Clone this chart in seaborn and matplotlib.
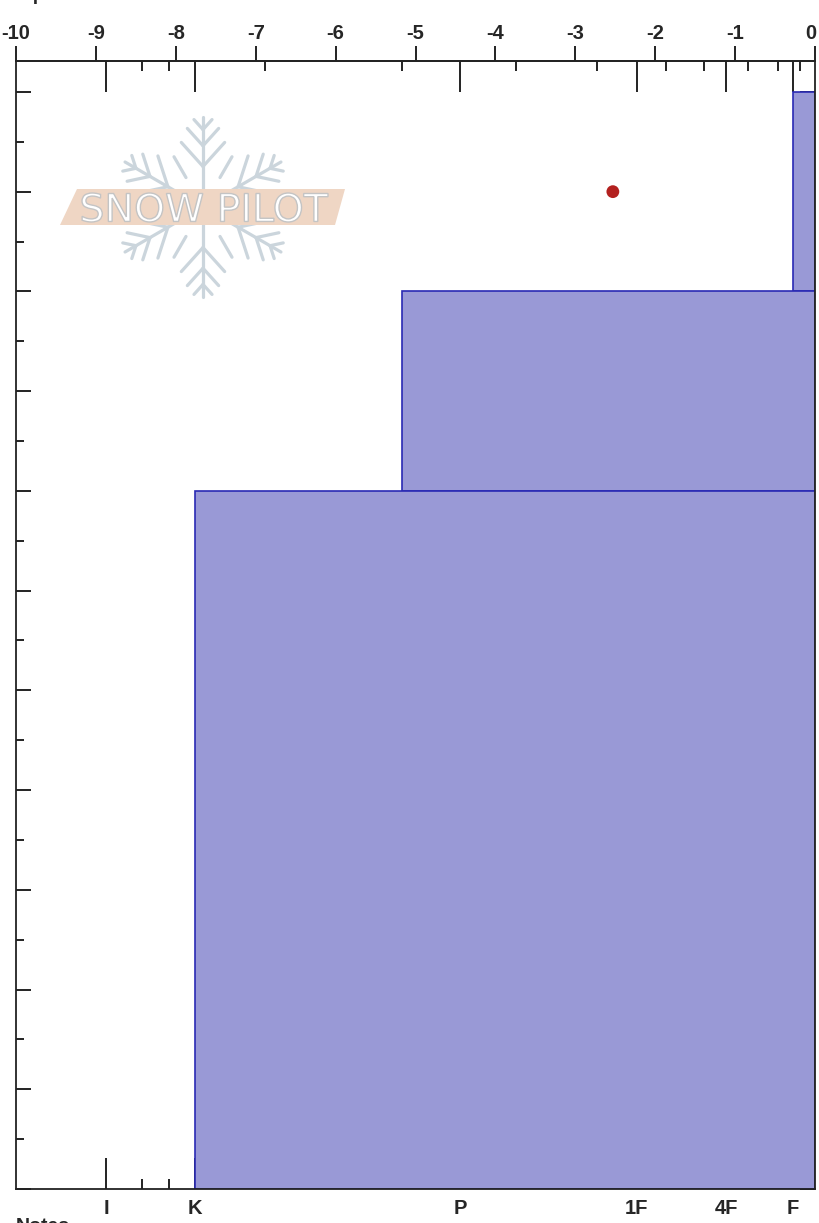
import numpy as np
import matplotlib
matplotlib.use("Agg")
import matplotlib.pyplot as plt
import matplotlib.transforms as mtransforms
from matplotlib.patches import Polygon, PathPatch
from matplotlib.textpath import TextPath
from matplotlib.font_manager import FontProperties
import seaborn as sns

# layers (height in cm, hardness on the -10..0 scale)
layer_top = [110, 90, 70]
layer_bottom = [90, 70, 0]
layer_hardness = [-0.275, -5.17, -7.76]   # F, P+, K

hardness_labels = ['I', 'K', 'P', '1F', '4F', 'F']
hardness_major = [-8.87, -7.76, -4.44, -2.23, -1.11, -0.275]
hardness_minor = [-8.42, -8.09, -6.88, -5.17, -3.74, -2.73, -1.86, -1.39, -0.84, -0.46, -0.19]
top_ticks = list(range(-10, 1))

point_x = [-2.53]
point_y = [100]
y_max = 113.1

sns.set_style("white")
plt.rcParams['font.family'] = ['Liberation Sans', 'DejaVu Sans']

W, H = 820, 1223
fig = plt.figure(figsize=(W / 100, H / 100), dpi=100)
ax = fig.add_axes([16 / W, 34 / H, 799 / W, 1128 / H])

ax.barh(y=layer_bottom, width=[0 - h for h in layer_hardness], left=layer_hardness,
        height=[t - b for t, b in zip(layer_top, layer_bottom)], align='edge',
        color='#9999d6', edgecolor='#2a2ab4', linewidth=1.2, zorder=2)

sns.scatterplot(x=point_x, y=point_y, ax=ax, color='#b3211f', s=85,
                edgecolor='none', zorder=4, legend=False)

ax.set_xlim(-10, 0)
ax.set_ylim(0, y_max)

ax.set_xticks(hardness_major)
ax.set_xticklabels(hardness_labels)
ax.set_xticks(hardness_minor, minor=True)
ax.tick_params(axis='x', which='major', direction='in', length=22, width=1.4,
               top=True, bottom=True, labeltop=False, labelbottom=True,
               labelsize=14.5, pad=7, color='#222222')
ax.tick_params(axis='x', which='minor', direction='in', length=7, width=1.4,
               top=True, bottom=True, color='#222222')
for lab in ax.get_xticklabels():
    lab.set_fontweight('bold')

ax.set_yticks(np.arange(0, 111, 10))
ax.set_yticks(np.arange(5, 111, 10), minor=True)
ax.tick_params(axis='y', which='major', direction='in', length=10.5, width=1.4,
               left=True, right=True, labelleft=False, color='#222222')
ax.tick_params(axis='y', which='minor', direction='in', length=5.5, width=1.4,
               left=True, right=True, color='#222222')

for sp in ax.spines.values():
    sp.set_color('#222222')
    sp.set_linewidth(1.3)

sec = ax.secondary_xaxis('top')
sec.set_xticks(top_ticks)
sec.set_xticklabels([str(t) for t in top_ticks])
sec.tick_params(direction='out', length=11, width=1.4, labelsize=14.5, pad=2, color='#222222')
sec.spines['top'].set_color('#222222')
sec.spines['top'].set_linewidth(1.3)
for lab in sec.get_xticklabels():
    lab.set_fontweight('bold')
# keep the "0" label inside the image
last = sec.get_xticklabels()[-1]
last.set_transform(last.get_transform() + mtransforms.ScaledTranslation(-4 / 100, 0, fig.dpi_scale_trans))

# captions that sit at the edges of the image
fig.text(9 / W, 1.0, 'Depth', fontsize=14, fontweight='bold', va='baseline')
fig.text(16 / W, 1 - 1218 / H, 'Notes', fontsize=14, fontweight='bold', va='top')

# snow pilot watermark, drawn in pixel coordinates
px = mtransforms.Affine2D().scale(1 / W, -1 / H).translate(0, 1) + fig.transFigure
cx, cy = 203, 207
flake = '#cbd5dc'
kw = dict(transform=px, color=flake, lw=2.3, clip_on=False, solid_capstyle='round', zorder=0)
arm = 90
for ang in [90, 30, -30, -90, 150, 210]:
    a = np.deg2rad(ang)
    ux, uy = np.cos(a), -np.sin(a)
    ax.plot([cx, cx + arm * ux], [cy, cy + arm * uy], **kw)
    for f, bl in [(0.45, 0.36), (0.68, 0.26), (0.86, 0.15)]:
        bx, by = cx + f * arm * ux, cy + f * arm * uy
        for s in (1, -1):
            b = a + s * np.deg2rad(42)
            ax.plot([bx, bx + bl * arm * np.cos(b)], [by, by - bl * arm * np.sin(b)], **kw)
for ang in [60, 120, 240, 300]:
    a = np.deg2rad(ang)
    ax.plot([cx + 34 * np.cos(a), cx + 58 * np.cos(a)],
            [cy - 34 * np.sin(a), cy - 58 * np.sin(a)], **kw)

banner = Polygon([(60, 225), (77, 189), (345, 189), (335, 225)], closed=True,
                 facecolor='#efd6c4', edgecolor='none', transform=px, clip_on=False, zorder=1)
ax.add_patch(banner)

tp = TextPath((0, 0), "SNOW PILOT", size=1, prop=FontProperties(family='DejaVu Sans'))
bb = tp.get_extents()
fit = mtransforms.Affine2D().translate(-bb.x0, -bb.y0).scale(246 / bb.width, -29 / bb.height).translate(82, 222)
ax.add_patch(PathPatch(fit.transform_path(tp), facecolor='white', edgecolor='#c4c4c4',
                       lw=1, transform=px, clip_on=False, zorder=1.5))

fig.savefig("out.png", dpi=100)
